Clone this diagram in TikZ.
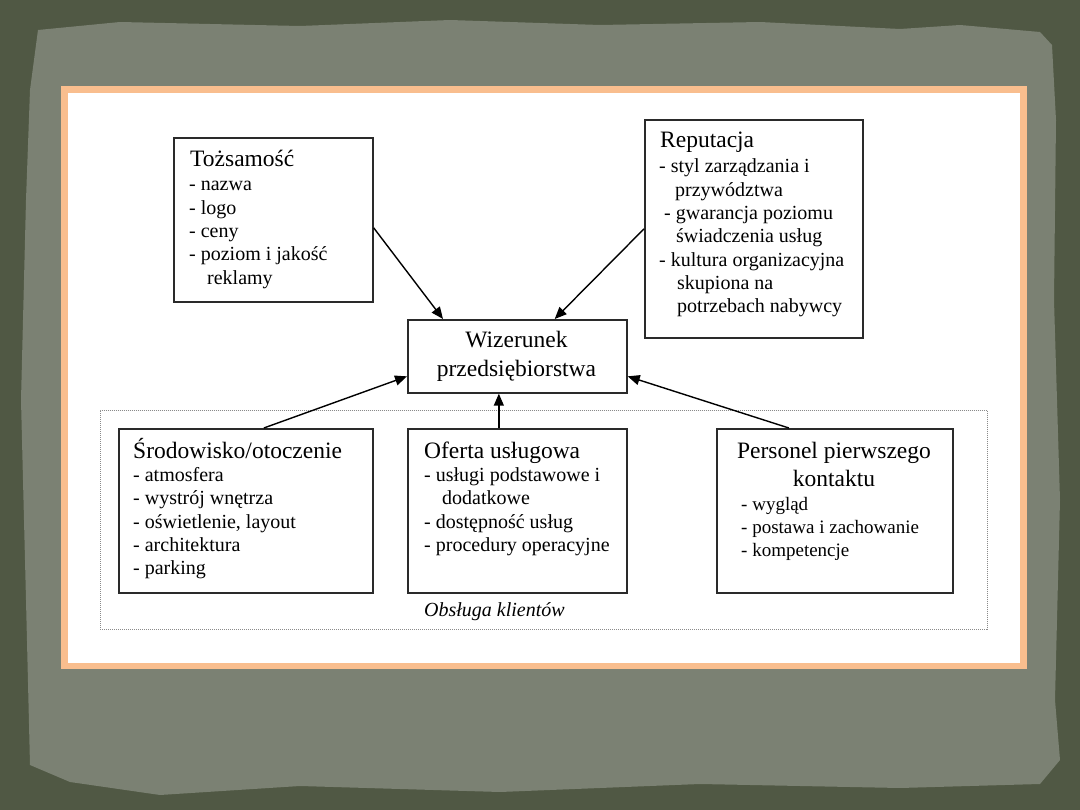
\documentclass[tikz,border=0pt]{standalone}
\usepackage{fontspec}
\setmainfont{Liberation Serif}
\usetikzlibrary{arrows.meta}
\definecolor{bgdark}{HTML}{505844}
\definecolor{paper}{HTML}{7B8173}
\definecolor{frameor}{HTML}{F9BE8E}
\definecolor{boxline}{HTML}{2A2A2A}
\definecolor{dotline}{HTML}{8A8A8A}
\tikzset{
  box/.style={draw=boxline, line width=1.7pt, fill=white, inner sep=0pt, anchor=north west},
  ttl/.style={font=\fontsize{23.5}{27}\selectfont, inner sep=0pt, anchor=base west},
  ttlc/.style={font=\fontsize{23.5}{27}\selectfont, inner sep=0pt, anchor=base},
  itm/.style={font=\fontsize{20}{23}\selectfont, inner sep=0pt, anchor=base west},
  itmn/.style={font=\fontsize{19}{23}\selectfont, inner sep=0pt, anchor=base west},
  arr/.style={draw=black, line width=1.4pt, -{Triangle[length=12pt,width=10pt]}},
  dotbox/.style={draw=dotline, line width=0.9pt, dash pattern=on 1pt off 1pt, inner sep=0pt, anchor=north west},
}
\begin{document}
\begin{tikzpicture}[x=1pt,y=-1pt]
\useasboundingbox (0,0) rectangle (1080,810);
% background
\fill[bgdark] (0,0) rectangle (1080,810);
\fill[paper] (38,30) -- (120,22) -- (300,26) -- (450,20) -- (600,25) -- (760,22) -- (900,29) -- (960,25) -- (1040,32) -- (1052,45) -- (1056,120) -- (1054,300) -- (1060,500) -- (1055,700) -- (1060,760) -- (1040,784) -- (900,788) -- (700,784) -- (500,792) -- (300,786) -- (160,795) -- (70,782) -- (30,765) -- (26,600) -- (21,400) -- (26,200) -- (30,90) -- cycle;
% frame
\fill[frameor] (61,86) rectangle (1027,669);
\fill[white] (68,93) rectangle (1020,663);

% dotted group
\node[dotbox, minimum width=887pt, minimum height=219pt] (obs) at (100,410) {};
\node[font=\fontsize{20}{23}\selectfont\itshape, inner sep=0pt, anchor=base west] (obslbl) at (424,616) {Obsługa klientów};

% boxes
\node[box, minimum width=199pt, minimum height=164pt] (toz) at (173,137) {};
\node[box, minimum width=218pt, minimum height=218pt] (rep) at (644,119) {};
\node[box, minimum width=219pt, minimum height=73pt] (wiz) at (407,319) {};
\node[box, minimum width=254pt, minimum height=164pt] (sro) at (118,428) {};
\node[box, minimum width=219pt, minimum height=164pt] (ofe) at (407,428) {};
\node[box, minimum width=236pt, minimum height=164pt] (per) at (716,428) {};

% Tożsamość
\node[ttl] (toz0) at (190,167) {Tożsamość};
\node[itm] (toz1) at (189,191) {- nazwa};
\node[itm] (toz2) at (189,214.3) {- logo};
\node[itm] (toz3) at (189,237.6) {- ceny};
\node[itm] (toz4) at (189,260.9) {- poziom i jakość};
\node[itm] (toz5) at (207,284.2) {reklamy};

% Reputacja
\node[ttl] (rep0) at (660,148) {Reputacja};
\node[itm] (rep1) at (659,173) {- styl zarządzania i};
\node[itm] (rep2) at (675,196.3) {przywództwa};
\node[itm] (rep3) at (664,219.6) {- gwarancja poziomu};
\node[itm] (rep4) at (676,242.9) {świadczenia usług};
\node[itm] (rep5) at (659,266.2) {- kultura organizacyjna};
\node[itm] (rep6) at (677,289.5) {skupiona na};
\node[itm] (rep7) at (677,312.8) {potrzebach nabywcy};

% Wizerunek
\node[ttlc] (wiz1) at (516.5,348) {Wizerunek};
\node[ttlc] (wiz2) at (516.5,377) {przedsiębiorstwa};

% Środowisko
\node[ttl] (sro0) at (133,458) {Środowisko/otoczenie};
\node[itm] (sro1) at (133,481.5) {- atmosfera};
\node[itm] (sro2) at (133,504.8) {- wystrój wnętrza};
\node[itm] (sro3) at (133,528.1) {- oświetlenie, layout};
\node[itm] (sro4) at (133,551.4) {- architektura};
\node[itm] (sro5) at (133,574.7) {- parking};

% Oferta
\node[ttl] (ofe0) at (424,458) {Oferta usługowa};
\node[itm] (ofe1) at (424,481.5) {- usługi podstawowe i};
\node[itm] (ofe2) at (442,504.8) {dodatkowe};
\node[itm] (ofe3) at (424,528.1) {- dostępność usług};
\node[itm] (ofe4) at (424,551.4) {- procedury operacyjne};

% Personel
\node[ttlc] (per0) at (834,459) {Personel pierwszego};
\node[ttlc] (per1) at (834,486) {kontaktu};
\node[itmn] (per2) at (741,510) {- wygląd};
\node[itmn] (per3) at (741,533.3) {- postawa i zachowanie};
\node[itmn] (per4) at (741,556.6) {- kompetencje};

% arrows
\draw[arr] ([yshift=-8pt]toz.east) -- ([xshift=36pt]wiz.north west);
\draw[arr] (rep.west) -- ([xshift=-73pt]wiz.north east);
\draw[arr] ([xshift=18pt]sro.north) -- ([yshift=-20pt]wiz.west);
\draw[arr] ([xshift=-18.5pt]ofe.north) -- ([xshift=-18.5pt]wiz.south);
\draw[arr] ([xshift=-46pt]per.north) -- ([yshift=-20pt]wiz.east);
\end{tikzpicture}
\end{document}
